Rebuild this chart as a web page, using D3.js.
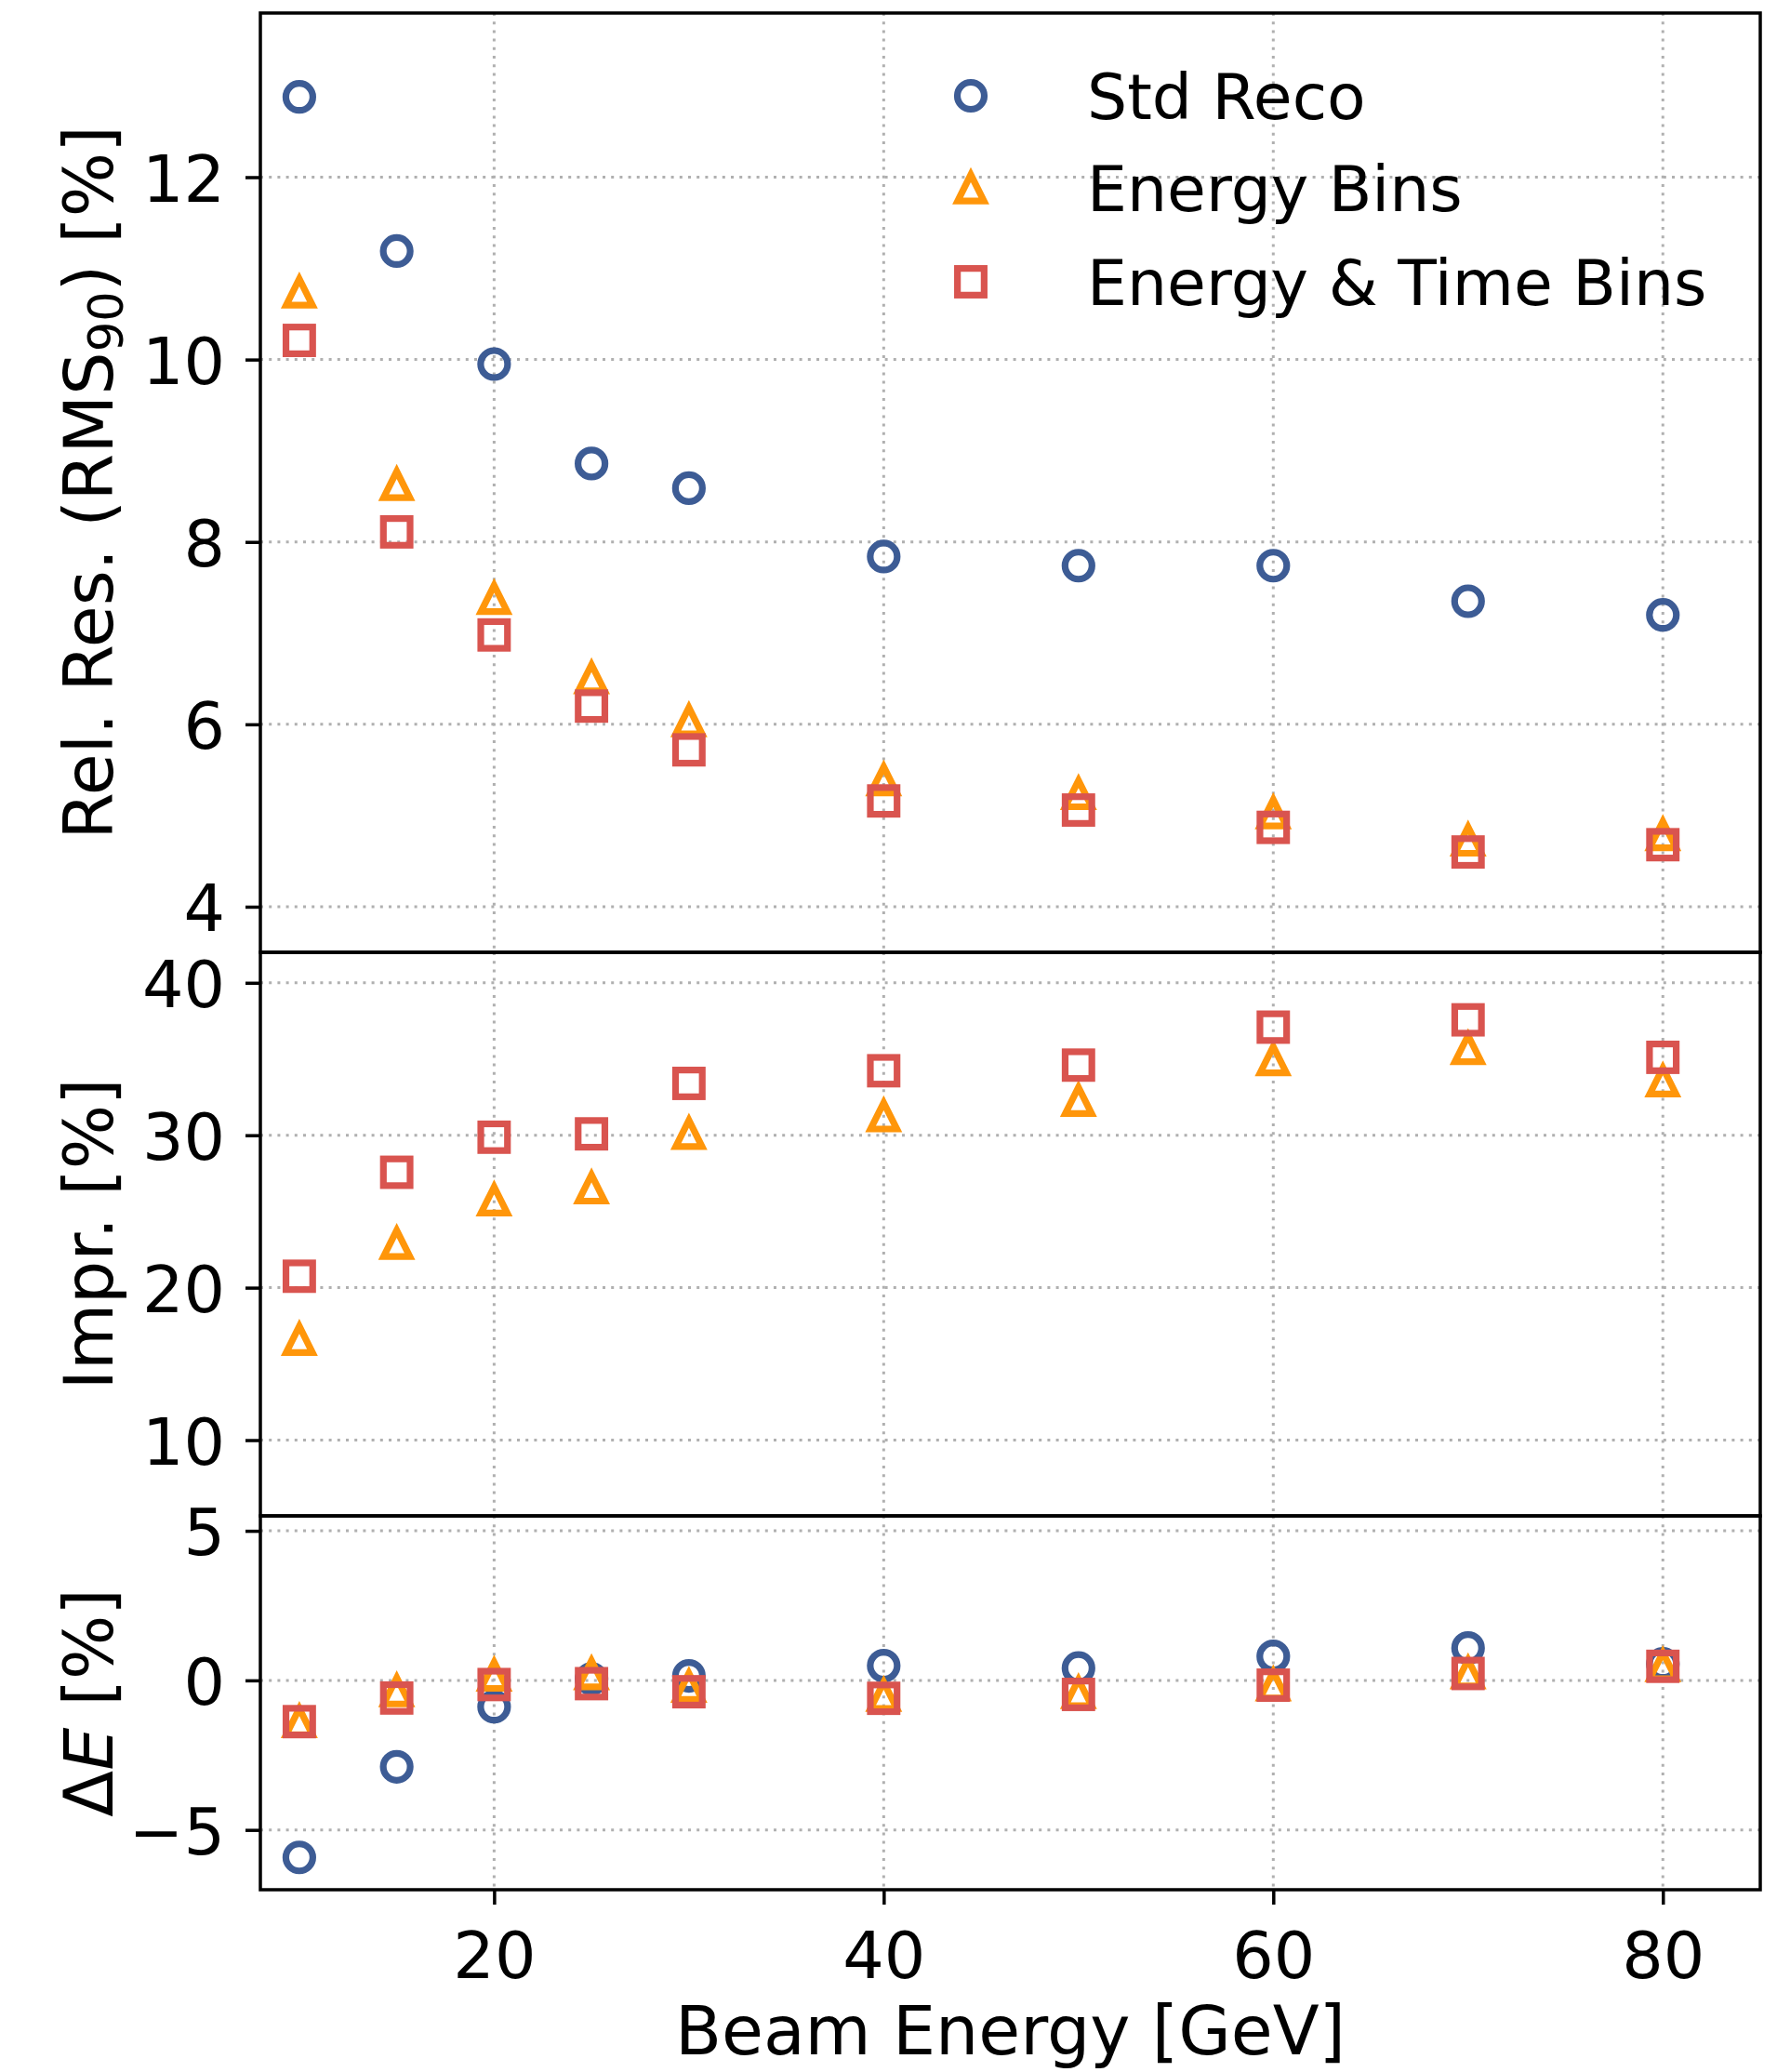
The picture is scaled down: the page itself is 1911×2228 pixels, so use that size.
<!DOCTYPE html>
<html>
<head>
<meta charset="utf-8">
<script src="https://cdn.jsdelivr.net/npm/d3@7"></script>
<style>
  html, body { margin: 0; padding: 0; background: #ffffff; }
  svg text { font-family: "DejaVu Sans", sans-serif; fill: #000; }
</style>
</head>
<body>
<svg id="chart" width="1911" height="2228"></svg>
<script>
// Beam energies (GeV)
const energies = [10, 15, 20, 25, 30, 40, 50, 60, 70, 80];

// Relative resolution, RMS90 [%]
const resStdReco     = [12.88, 11.19, 9.95, 8.86, 8.59, 7.84, 7.74, 7.74, 7.35, 7.20];
const resEnergyBins  = [10.74, 8.63, 7.38, 6.51, 6.04, 5.39, 5.24, 5.03, 4.73, 4.79];
const resEnergyTime  = [10.21, 8.11, 6.98, 6.20, 5.72, 5.16, 5.06, 4.87, 4.60, 4.68];

// Improvement over standard reconstruction [%]
const imprEnergyBins = [16.61, 22.90, 25.75, 26.54, 30.12, 31.27, 32.28, 34.95, 35.68, 33.56];
const imprEnergyTime = [20.75, 27.57, 29.87, 30.09, 33.40, 34.23, 34.60, 37.09, 37.57, 35.11];

// Energy response offset, Delta E [%]
const dEStdReco      = [-5.92, -2.89, -0.88, 0.05, 0.15, 0.49, 0.41, 0.80, 1.08, 0.55];
const dEEnergyBins   = [-1.38, -0.35, 0.17, 0.22, -0.20, -0.50, -0.41, -0.15, 0.25, 0.49];
const dEEnergyTime   = [-1.38, -0.59, -0.14, -0.11, -0.38, -0.60, -0.47, -0.16, 0.23, 0.47];

// Axis ticks and labels
const xTicks  = [20, 40, 60, 80];
const resTicks  = [4, 6, 8, 10, 12];
const imprTicks = [10, 20, 30, 40];
const dETicks   = [-5, 0, 5];
const seriesNames = ["Std Reco", "Energy Bins", "Energy & Time Bins"];

// ---- styling / layout ----
const COL = { circle: "#3d5c95", tri: "#ff960a", sq: "#d9544f" };
const FS_TICK = 70, FS_LEG = 68, FS_LABEL = 73;
const LEFT = 280, RIGHT = 1893;
const panels = [
  { top: 14,   bottom: 1024, domain: [3.5, 13.8], ticks: resTicks },
  { top: 1024, bottom: 1630, domain: [5.03, 42.0], ticks: imprTicks },
  { top: 1630, bottom: 2032, domain: [-7, 5.5],  ticks: dETicks }
];

const svg = d3.select("#chart");
svg.append("rect").attr("width", 1911).attr("height", 2228).attr("fill", "#fff");

const x = d3.scaleLinear().domain([8, 85]).range([LEFT, RIGHT]);
panels.forEach(p => { p.y = d3.scaleLinear().domain(p.domain).range([p.bottom, p.top]); });

const fmt = d3.format("");

// grid
const gridG = svg.append("g").attr("stroke", "#b0b0b0").attr("stroke-width", 3)
  .attr("stroke-dasharray", "3 6.2").attr("fill", "none");
panels.forEach(p => {
  gridG.selectAll(null).data(xTicks).join("line")
    .attr("x1", d => x(d)).attr("x2", d => x(d))
    .attr("y1", p.top).attr("y2", p.bottom);
  gridG.selectAll(null).data(p.ticks).join("line")
    .attr("x1", LEFT).attr("x2", RIGHT)
    .attr("y1", d => p.y(d)).attr("y2", d => p.y(d));
});

// marker shapes
const TRI = 28.2, SQ = 28.7, CR = 14.5, SW = 7.2;
function drawCircles(g, ys, yScale) {
  g.selectAll(null).data(energies.map((e, i) => [e, ys[i]])).join("circle")
    .attr("cx", d => x(d[0])).attr("cy", d => yScale(d[1])).attr("r", CR)
    .attr("fill", "none").attr("stroke", COL.circle).attr("stroke-width", SW);
}
function triPath(cx, cy) {
  const h = TRI / 2;
  return `M${cx},${cy - h}L${cx - h},${cy + h}L${cx + h},${cy + h}Z`;
}
function drawTriangles(g, ys, yScale) {
  g.selectAll(null).data(energies.map((e, i) => [e, ys[i]])).join("path")
    .attr("d", d => triPath(x(d[0]), yScale(d[1])))
    .attr("fill", "none").attr("stroke", COL.tri).attr("stroke-width", SW)
    .attr("stroke-linejoin", "miter");
}
function drawSquares(g, ys, yScale) {
  g.selectAll(null).data(energies.map((e, i) => [e, ys[i]])).join("rect")
    .attr("x", d => x(d[0]) - SQ / 2).attr("y", d => yScale(d[1]) - SQ / 2)
    .attr("width", SQ).attr("height", SQ)
    .attr("fill", "none").attr("stroke", COL.sq).attr("stroke-width", SW);
}

// panel 1: relative resolution
const g1 = svg.append("g");
drawCircles(g1, resStdReco, panels[0].y);
drawTriangles(g1, resEnergyBins, panels[0].y);
drawSquares(g1, resEnergyTime, panels[0].y);

// panel 2: improvement
const g2 = svg.append("g");
drawTriangles(g2, imprEnergyBins, panels[1].y);
drawSquares(g2, imprEnergyTime, panels[1].y);

// panel 3: energy offset
const g3 = svg.append("g");
drawCircles(g3, dEStdReco, panels[2].y);
drawTriangles(g3, dEEnergyBins, panels[2].y);
drawSquares(g3, dEEnergyTime, panels[2].y);

// y axes
panels.forEach(p => {
  const ax = svg.append("g").attr("transform", `translate(${LEFT},0)`)
    .call(d3.axisLeft(p.y).tickValues(p.ticks).tickFormat(fmt).tickSize(16).tickPadding(22));
  ax.select(".domain").remove();
  ax.selectAll(".tick line").attr("stroke", "#000").attr("stroke-width", 3.5);
  ax.selectAll(".tick text").attr("font-size", FS_TICK).attr("dy", "0.365em")
    .attr("font-family", "DejaVu Sans").attr("fill", "#000");
});

// x axis on the bottom panel
const xa = svg.append("g").attr("transform", `translate(0,${panels[2].bottom})`)
  .call(d3.axisBottom(x).tickValues(xTicks).tickFormat(fmt).tickSize(16).tickPadding(29));
xa.select(".domain").remove();
xa.selectAll(".tick line").attr("stroke", "#000").attr("stroke-width", 3.5);
xa.selectAll(".tick text").attr("font-size", FS_TICK).attr("font-family", "DejaVu Sans").attr("fill", "#000");

// panel frames
panels.forEach(p => {
  svg.append("rect").attr("x", LEFT).attr("y", p.top)
    .attr("width", RIGHT - LEFT).attr("height", p.bottom - p.top)
    .attr("fill", "none").attr("stroke", "#000").attr("stroke-width", 3.5);
});

// axis labels
const LBL_X = 121;
const l1 = svg.append("text").attr("font-size", FS_LABEL).attr("text-anchor", "middle")
  .attr("transform", `translate(${LBL_X},${(panels[0].top + panels[0].bottom) / 2}) rotate(-90)`);
l1.append("tspan").text("Rel. Res. (RMS");
l1.append("tspan").attr("font-size", FS_LABEL * 0.7).attr("dy", 11).text("90");
l1.append("tspan").attr("dy", -11).text(") [%]");

svg.append("text").attr("font-size", FS_LABEL).attr("text-anchor", "middle")
  .attr("transform", `translate(${LBL_X},${(panels[1].top + panels[1].bottom) / 2}) rotate(-90)`)
  .text("Impr. [%]");

const l3 = svg.append("text").attr("font-size", FS_LABEL).attr("text-anchor", "middle")
  .attr("transform", `translate(${LBL_X},${(panels[2].top + panels[2].bottom) / 2}) rotate(-90)`);
l3.append("tspan").text("\u0394");
l3.append("tspan").attr("font-style", "italic").text("E");
l3.append("tspan").text(" [%]");

svg.append("text").attr("font-size", FS_LABEL).attr("text-anchor", "middle")
  .attr("x", (LEFT + RIGHT) / 2).attr("y", 2209).text("Beam Energy [GeV]");

// legend
const legX = 1044, legTextX = 1169, legY = [103, 202, 303];
const leg = svg.append("g");
leg.append("circle").attr("cx", legX).attr("cy", legY[0]).attr("r", CR)
  .attr("fill", "none").attr("stroke", COL.circle).attr("stroke-width", SW);
leg.append("path").attr("d", triPath(legX, legY[1]))
  .attr("fill", "none").attr("stroke", COL.tri).attr("stroke-width", SW);
leg.append("rect").attr("x", legX - SQ / 2).attr("y", legY[2] - SQ / 2)
  .attr("width", SQ).attr("height", SQ)
  .attr("fill", "none").attr("stroke", COL.sq).attr("stroke-width", SW);
leg.selectAll("text").data(seriesNames).join("text")
  .attr("x", legTextX).attr("y", (d, i) => legY[i] + 25)
  .attr("font-size", FS_LEG).text(d => d);
</script>
</body>
</html>
